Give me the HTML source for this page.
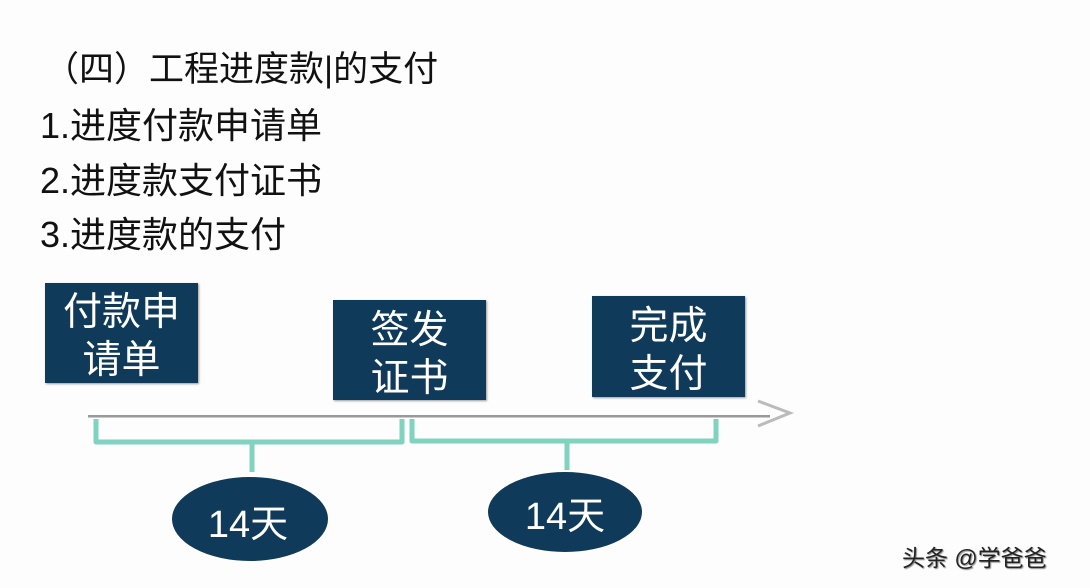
<!DOCTYPE html>
<html><head><meta charset="utf-8"><style>
body{margin:0;width:1090px;height:588px;background:#fdfdfd;overflow:hidden;position:relative;font-family:"Liberation Sans","Noto Sans CJK SC",sans-serif;}
.t{position:absolute;left:40px;font-size:36px;color:#111;white-space:nowrap;line-height:1;}
.box{position:absolute;background:#0f3a5a;color:#fff;font-size:39px;line-height:48px;text-align:center;box-shadow:1px 1px 2px #999;}
</style></head><body>
<div class="t" style="top:52px;left:44px;font-size:35px">（四）工程进度款|的支付</div>
<div class="t" style="top:108px">1.进度付款申请单</div>
<div class="t" style="top:163px">2.进度款支付证书</div>
<div class="t" style="top:217px">3.进度款的支付</div>
<svg width="1090" height="588" style="position:absolute;left:0;top:0">
<line x1="88" y1="416" x2="770" y2="416" stroke="#999" stroke-width="3"/>
<line x1="88" y1="413" x2="770" y2="413" stroke="#fff" stroke-width="4"/>
<polyline points="758,401 790,413 758,426" fill="none" stroke="#bbb" stroke-width="3"/>
<g fill="none" stroke="#7fd3bf" stroke-width="5" stroke-linejoin="round">
<path d="M96 419 V442 H402 V419"/><path d="M252 442 V472"/>
<path d="M412 419 V441 H716 V419"/><path d="M567 441 V470"/>
</g>
<ellipse cx="250" cy="519" rx="79" ry="43" fill="#0f3a5a" stroke="#fff" stroke-width="2"/>
<ellipse cx="565" cy="512" rx="78" ry="41" fill="#0f3a5a" stroke="#fff" stroke-width="2"/>
<text x="248" y="537" fill="#fff" font-size="38" text-anchor="middle" font-family="Liberation Sans,Noto Sans CJK SC,sans-serif">14天</text>
<text x="565" y="529" fill="#fff" font-size="38" text-anchor="middle" font-family="Liberation Sans,Noto Sans CJK SC,sans-serif">14天</text>
</svg>
<div class="box" style="left:45px;top:283px;width:153px;height:100px;padding-top:6px;box-sizing:border-box">付款申<br>请单</div>
<div class="box" style="left:333px;top:300px;width:153px;height:100px;padding-top:7px;box-sizing:border-box">签发<br>证书</div>
<div class="box" style="left:592px;top:296px;width:153px;height:101px;padding-top:7px;box-sizing:border-box">完成<br>支付</div>
<div style="position:absolute;left:902px;top:539px;font-size:23px;color:#222;text-shadow:1px 1px 1px #888">头条 @学爸爸</div>
</body></html>
